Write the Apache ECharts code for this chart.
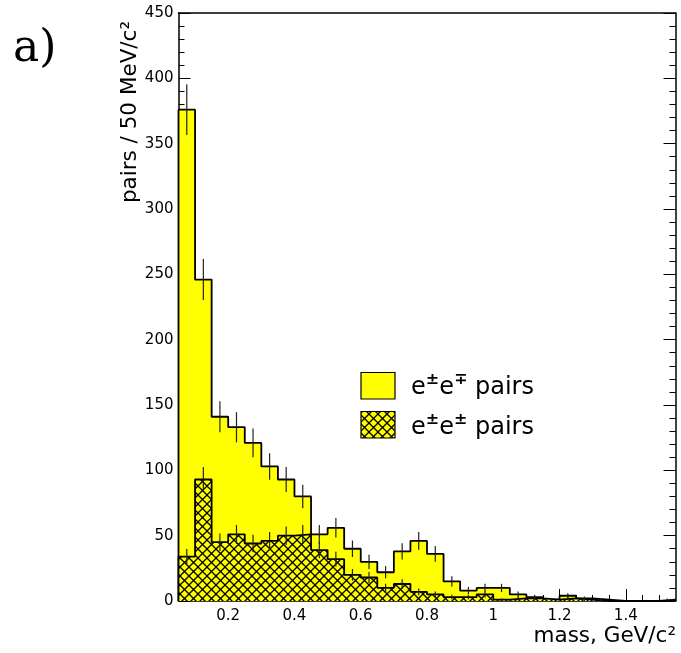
<!DOCTYPE html>
<html>
<head>
<meta charset="utf-8">
<script src="https://cdn.jsdelivr.net/npm/echarts@6/dist/echarts.min.js"></script>
<style>
html,body{margin:0;padding:0;background:#fff;}
#chart{width:681px;height:653px;}
</style>
</head>
<body>
<div id="chart"></div>
<script>
// ---- data ----
const binLow = [0.05,0.10,0.15,0.20,0.25,0.30,0.35,0.40,0.45,0.50,
                0.55,0.60,0.65,0.70,0.75,0.80,0.85,0.90,0.95,1.00,
                1.05,1.10,1.15,1.20,1.25,1.30,1.35,1.40,1.45,1.50];
const binWidth = 0.05;
const oppositeSignPairs = [376,246,141,133,121,103,93,80,51,56,
                           40,30,22,38,46,36,15,8,10,10,
                           5,3,1,4,2,1,0,0,0,1];
const sameSignPairs = [34,93,45,51,44,46,50,51,39,32,
                       20,18,10,13,7,5,3,3,5,1,
                       2,2,1,2,1,0,0,0,0,0];
const xMajorTicks = [0.2,0.4,0.6,0.8,1.0,1.2,1.4];
const xMinorTicks = [0.1,0.15,0.2,0.25,0.3,0.35,0.4,0.45,0.5,0.55,0.6,0.65,0.7,0.75,0.8,0.85,0.9,0.95,1.0,1.05,1.1,1.15,1.2,1.25,1.3,1.35,1.4,1.45,1.5];
const yMin = 0, yMax = 450, yStep = 50;

// ---- helpers ----
function stepData(vals){
  const d = [[binLow[0], 0]];
  vals.forEach((v,i)=>d.push([binLow[i], v]));
  const hi = binLow[binLow.length-1] + binWidth;
  d.push([hi, vals[vals.length-1]]);
  d.push([hi, 0]);
  return d;
}
function errData(vals){
  const d = [];
  vals.forEach((v,i)=>{
    if(v>0){ const e=Math.sqrt(v); d.push([binLow[i]+binWidth/2, Math.max(0,v-e), v+e]); }
  });
  return d;
}
function hatchCanvas(){
  const s = 9;
  const c = document.createElement('canvas');
  c.width = s; c.height = s;
  const g = c.getContext('2d');
  g.fillStyle = '#ffff00'; g.fillRect(0,0,s,s);
  g.strokeStyle = '#000'; g.lineWidth = 1.3;
  g.beginPath();
  g.moveTo(-1,-1); g.lineTo(s+1,s+1);
  g.moveTo(-1,s+1); g.lineTo(s+1,-1);
  g.stroke();
  return c;
}
const hatch = {image: hatchCanvas(), repeat: 'repeat'};

const xMin = binLow[0], xMax = binLow[binLow.length-1] + binWidth;
const FONT = 'DejaVu Sans';

const chart = echarts.init(document.getElementById('chart'), null, {renderer:'canvas'});

const errRender = function(params, api){
  const p1 = api.coord([api.value(0), api.value(1)]);
  const p2 = api.coord([api.value(0), api.value(2)]);
  return {type:'line', shape:{x1:p1[0],y1:p1[1],x2:p2[0],y2:p2[1]}, style:{stroke:'#222', lineWidth:1.2}};
};

const axisLine = {show:true, lineStyle:{color:'#000', width:1.5}};

chart.setOption({
  animation:false,
  backgroundColor:'#fff',
  grid:{left:178.5, top:13, right:5.5, bottom:52, containLabel:false},
  xAxis:[
    {type:'value', min:xMin, max:xMax, position:'bottom',
     axisLine:axisLine,
     axisTick:{show:true, inside:true, length:12, customValues:xMajorTicks, lineStyle:{color:'#000'}},
     axisLabel:{show:true, customValues:xMajorTicks, margin:8, color:'#000', fontFamily:FONT, fontSize:15,
       formatter:v=>String(Math.round(v*10)/10)},
     splitLine:{show:false}},
    {type:'value', min:xMin, max:xMax, position:'bottom', offset:0,
     axisLine:{show:false},
     axisTick:{show:true, inside:true, length:6, customValues:xMinorTicks, lineStyle:{color:'#000'}},
     axisLabel:{show:false}, splitLine:{show:false}},
    {type:'value', min:xMin, max:xMax, position:'top',
     axisLine:axisLine, axisTick:{show:false}, axisLabel:{show:false}, splitLine:{show:false}}
  ],
  yAxis:[
    {type:'value', min:yMin, max:yMax, interval:yStep, position:'left',
     axisLine:axisLine,
     axisTick:{show:true, inside:true, length:12, lineStyle:{color:'#000'}},
     minorTick:{show:true, splitNumber:5, length:6, lineStyle:{color:'#000'}},
     axisLabel:{margin:5, color:'#000', fontFamily:FONT, fontSize:15},
     splitLine:{show:false}},
    {type:'value', min:yMin, max:yMax, interval:yStep, position:'right',
     axisLine:axisLine,
     axisTick:{show:true, inside:true, length:12, lineStyle:{color:'#000'}},
     minorTick:{show:true, splitNumber:5, length:6, lineStyle:{color:'#000'}},
     axisLabel:{show:false}, splitLine:{show:false}}
  ],
  series:[
    {name:'opposite', type:'line', step:'end', xAxisIndex:0, yAxisIndex:0,
     data:stepData(oppositeSignPairs), symbol:'none',
     lineStyle:{color:'#000', width:1.8},
     areaStyle:{color:'#ffff00', opacity:1, origin:'start'}, z:2},
    {name:'same', type:'line', step:'end', xAxisIndex:0, yAxisIndex:0,
     data:stepData(sameSignPairs), symbol:'none',
     lineStyle:{color:'#000', width:1.8},
     areaStyle:{color:hatch, opacity:1, origin:'start'}, z:3},
    {type:'custom', xAxisIndex:0, yAxisIndex:0, renderItem:errRender,
     data:errData(oppositeSignPairs), encode:{x:0,y:[1,2]}, z:4},
    {type:'custom', xAxisIndex:0, yAxisIndex:0, renderItem:errRender,
     data:errData(sameSignPairs), encode:{x:0,y:[1,2]}, z:4}
  ],
  graphic:[
    {type:'text', left:13, top:28, style:{text:'a)', fontFamily:'DejaVu Serif', fontSize:44, fill:'#000'}},
    {type:'text', x:130, y:112, rotation:Math.PI/2,
     style:{text:'pairs / 50 MeV/c²', fontFamily:FONT, fontSize:21.5, fill:'#000', align:'center', verticalAlign:'middle'}},
    {type:'text', x:676, y:636,
     style:{text:'mass, GeV/c²', fontFamily:FONT, fontSize:21.5, fill:'#000', align:'right', verticalAlign:'middle'}},
    {type:'rect', shape:{x:361, y:372.5, width:34, height:26.5}, style:{fill:'#ffff00', stroke:'#000', lineWidth:1.2}},
    {type:'rect', shape:{x:361, y:411.5, width:34, height:26.5}, style:{fill:hatch, stroke:'#000', lineWidth:1.2}},
    {type:'text', x:411, y:386,
     style:{text:'{e|e}{s|±}{e|e}{s|∓}{e| pairs}', verticalAlign:'middle', align:'left',
       rich:{e:{fontFamily:FONT, fontSize:24, fill:'#000', verticalAlign:'bottom', lineHeight:28},
             s:{fontFamily:FONT, fontSize:16, fill:'#000', fontWeight:'bold', verticalAlign:'top', lineHeight:28}}}},
    {type:'text', x:411, y:426,
     style:{text:'{e|e}{s|±}{e|e}{s|±}{e| pairs}', verticalAlign:'middle', align:'left',
       rich:{e:{fontFamily:FONT, fontSize:24, fill:'#000', verticalAlign:'bottom', lineHeight:28},
             s:{fontFamily:FONT, fontSize:16, fill:'#000', fontWeight:'bold', verticalAlign:'top', lineHeight:28}}}}
  ]
});
</script>
</body>
</html>
